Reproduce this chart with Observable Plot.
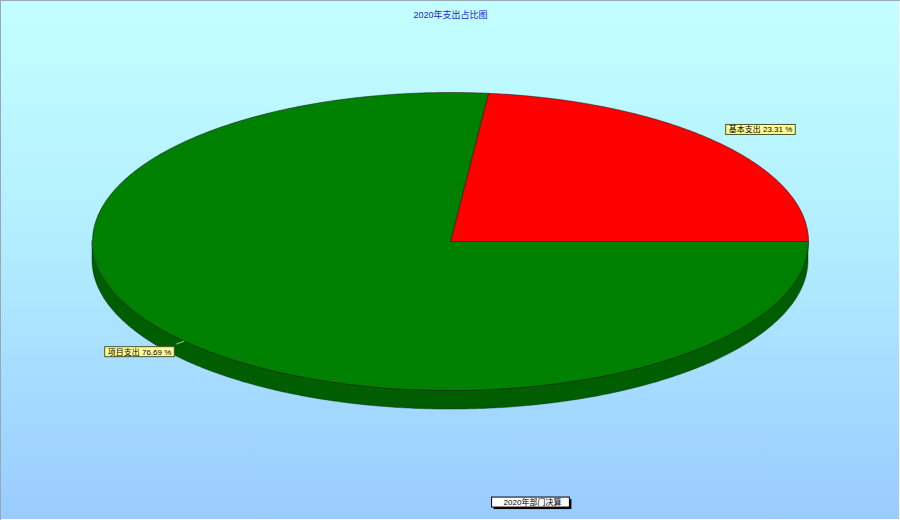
<!DOCTYPE html>
<html>
<head>
<meta charset="utf-8">
<script src="https://cdn.jsdelivr.net/npm/d3@7"></script>
<script src="https://cdn.jsdelivr.net/npm/@observablehq/plot@0.6"></script>
<style>
  html, body { margin: 0; padding: 0; }
  #frame {
    width: 900px; height: 520px; position: relative; overflow: hidden;
    background: linear-gradient(to bottom, #c3ffff 0%, #b3eeff 45%, #99cbff 100%);
    box-shadow: inset 1px 1px 0 #9aa8b0, inset -1px -1px 0 #ffffff;
  }
  #frame svg { display: block; background: transparent; }
</style>
</head>
<body>
<div id="frame"></div>
<script>
// Expenditure split for 2020
const categories = ["基本支出", "项目支出"];
const shares = [23.31, 76.69];
const topColors = ["#ff0000", "#008000"];
const sideColors = ["#b00000", "#005e00"];
const chartTitle = "2020年支出占比图";
const legendLabel = "2020年部门决算";

// Pie geometry in unit-circle space; the x/y scales squash it into an ellipse
const depth = 0.128;          // thickness of the rim, in y units
const step = Math.PI / 360;   // arc sampling

const total = d3.sum(shares);
let start = 0;
const slices = categories.map((name, i) => {
  const a0 = start;
  const a1 = start + (shares[i] / total) * 2 * Math.PI;
  start = a1;
  return {name, value: shares[i], a0, a1, mid: (a0 + a1) / 2, i};
});

// Top faces: centre -> arc -> centre
const topFaces = slices.map(s => {
  const pts = [{x: 0, y: 0}];
  const n = Math.max(2, Math.ceil((s.a1 - s.a0) / step));
  for (let k = 0; k <= n; ++k) {
    const t = s.a0 + (s.a1 - s.a0) * k / n;
    pts.push({x: Math.cos(t), y: Math.sin(t)});
  }
  pts.push({x: 0, y: 0});
  return {s, pts};
});

// Rim: only the front half (angles π..2π) is visible
const rim = [];
slices.forEach(s => {
  const lo = Math.max(s.a0, Math.PI), hi = Math.min(s.a1, 2 * Math.PI);
  if (hi <= lo) return;
  const n = Math.max(2, Math.ceil((hi - lo) / step));
  for (let k = 0; k <= n; ++k) {
    const t = lo + (hi - lo) * k / n;
    rim.push({x: Math.cos(t), y1: Math.sin(t), y2: Math.sin(t) - depth, name: s.name, i: s.i});
  }
});

// Label anchors: leader from rim edge slightly outward along the mid-angle
const labels = slices.map(s => ({
  x0: Math.cos(s.mid), y0: Math.sin(s.mid),
  x1: 1.03 * Math.cos(s.mid), y1: 1.03 * Math.sin(s.mid),
  text: `${s.name} ${s.value.toFixed(2)} %`,
  right: Math.cos(s.mid) >= 0,
  front: Math.sin(s.mid) < 0
}));

const font = "'Liberation Sans', 'Noto Sans CJK SC', sans-serif";

const chart = Plot.plot({
  width: 900,
  height: 520,
  margin: 0,
  style: {background: "transparent", fontFamily: font},
  x: {domain: [-1, 1], range: [92, 808], axis: null},
  y: {domain: [-1, 1], range: [390, 92], axis: null},
  marks: [
    // rim
    ...slices.map(s => Plot.area(rim.filter(d => d.i === s.i), {
      x1: "x", y1: "y1", y2: "y2",
      fill: sideColors[s.i], stroke: "#0a2a0a", strokeWidth: 0.6, strokeOpacity: 0.7
    })),
    // top faces
    ...topFaces.map(f => Plot.line(f.pts, {
      x: "x", y: "y", z: null,
      fill: topColors[f.s.i], stroke: "#1a1a1a", strokeWidth: 0.7, strokeOpacity: 0.8
    })),
    // leader lines (front labels)
    Plot.link(labels.filter(d => d.front), {
      x1: "x0", y1: "y0", x2: "x1", y2: "y1",
      stroke: "#8fdc8f", strokeWidth: 1
    }),
    // slice labels
    Plot.text(labels.filter(d => d.right), {
      x: "x1", y: "y1", text: "text", textAnchor: "start", dx: 4, dy: -9,
      fontSize: 8, fill: "#000", fontFamily: font
    }),
    Plot.text(labels.filter(d => !d.right), {
      x: "x1", y: "y1", text: "text", textAnchor: "end", dx: -5, dy: 8,
      fontSize: 8, fill: "#000", fontFamily: font
    }),
    // title
    Plot.text([chartTitle], {
      text: d => d, frameAnchor: "top", lineAnchor: "middle", dy: 15,
      fontSize: 9, fill: "#2323c8", fontFamily: font
    }),
    // legend
    Plot.text([legendLabel], {
      text: d => d, frameAnchor: "bottom", lineAnchor: "middle", dx: 82, dy: -18,
      fontSize: 8, fill: "#000", fontFamily: font
    })
  ]
});

document.getElementById("frame").append(chart);

// Boxes behind label texts, sized from the rendered text (same transform as the text)
const ns = "http://www.w3.org/2000/svg";
function makeRect(t, x, y, w, h, attrs) {
  const r = document.createElementNS(ns, "rect");
  r.setAttribute("x", x); r.setAttribute("y", y);
  r.setAttribute("width", w); r.setAttribute("height", h);
  const tr = t.getAttribute("transform");
  if (tr) r.setAttribute("transform", tr);
  for (const k in attrs) r.setAttribute(k, attrs[k]);
  t.parentNode.insertBefore(r, t);
}
function boxBehind(t, pad, fill, stroke, shadow) {
  const b = t.getBBox();
  const x = b.x - pad[0], y = b.y - pad[1];
  const w = b.width + pad[0] + pad[2], h = b.height + pad[1] + pad[3];
  if (shadow) makeRect(t, x + 2, y + 2, w, h, {fill: "#000"});
  makeRect(t, x, y, w, h, {fill, stroke, "stroke-width": 1});
}
const labelTexts = new Set(labels.map(d => d.text));
chart.querySelectorAll("text").forEach(t => {
  const s = t.textContent;
  if (labelTexts.has(s)) boxBehind(t, [3, 0, 3, 0], "#ffff99", "#505030", false);
  else if (s === legendLabel) boxBehind(t, [12, 0, 8, 0], "#ffffff", "#000000", true);
});
</script>
</body>
</html>
